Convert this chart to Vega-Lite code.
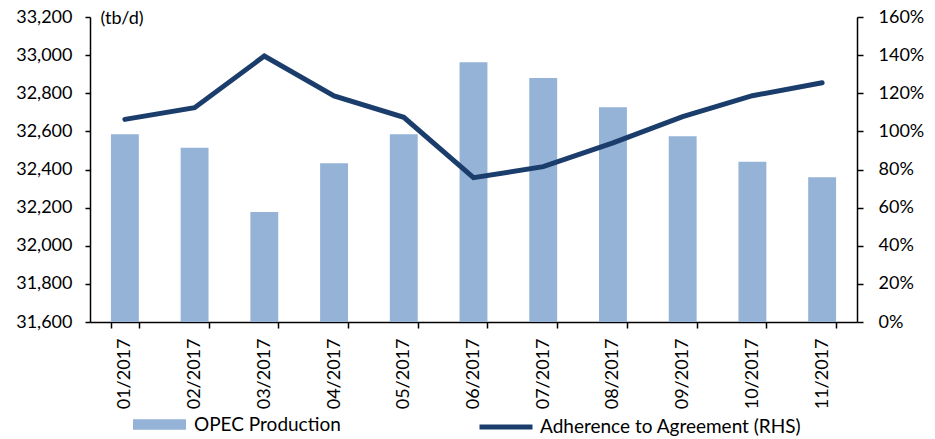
{
  "$schema": "https://vega.github.io/schema/vega-lite/v6.json",
  "autosize": {"type": "none"},
  "padding": {"left": 90, "top": 17, "right": 78, "bottom": 117},
  "width": 767,
  "height": 305,
  "background": "white",
  "config": {
    "view": {"stroke": null},
    "font": "Lato",
    "axis": {"labelFont": "Lato", "labelFontSize": 18, "labelColor": "#000", "domainColor": "#000", "domainWidth": 1.5, "tickColor": "#000", "tickWidth": 1.5, "tickSize": 5, "grid": false},
    "legend": {"labelFont": "Lato", "labelFontSize": 19, "labelColor": "#000", "labelLimit": 400}
  },
  "data": {
    "values": [
      {"month": "01/2017", "production": 32585, "adherence": 106.3},
      {"month": "02/2017", "production": 32514, "adherence": 112.4},
      {"month": "03/2017", "production": 32177, "adherence": 139.5},
      {"month": "04/2017", "production": 32433, "adherence": 118.6},
      {"month": "05/2017", "production": 32585, "adherence": 107.4},
      {"month": "06/2017", "production": 32962, "adherence": 75.7},
      {"month": "07/2017", "production": 32880, "adherence": 81.5},
      {"month": "08/2017", "production": 32726, "adherence": 94.0},
      {"month": "09/2017", "production": 32574, "adherence": 107.7},
      {"month": "10/2017", "production": 32441, "adherence": 118.7},
      {"month": "11/2017", "production": 32359, "adherence": 125.5}
    ]
  },
  "encoding": {
    "x": {
      "field": "month", "type": "ordinal", "sort": null,
      "scale": {"paddingInner": 0.6, "paddingOuter": 0.3},
      "axis": {"title": null, "labelAngle": -90, "labelAlign": "right", "labelBaseline": "middle", "labelPadding": 10, "tickBand": "extent", "tickSize": 6}
    }
  },
  "layer": [
    {
      "mark": {"type": "bar", "clip": true},
      "encoding": {
        "y": {
          "field": "production", "type": "quantitative",
          "scale": {"domain": [31600, 33200], "zero": false, "nice": false},
          "axis": {"title": "(tb/d)", "titleAngle": 0, "titleX": 10, "titleY": 1, "titleAlign": "left", "titleBaseline": "middle", "titleFontWeight": "normal", "titleFontSize": 18, "titleFont": "Lato", "titleColor": "#000", "format": ",.0f", "values": [31600, 31800, 32000, 32200, 32400, 32600, 32800, 33000, 33200], "labelPadding": 13}
        },
        "y2": {"datum": 31600},
        "fill": {
          "datum": "OPEC Production",
          "scale": {"range": ["#95B3D7"]},
          "legend": {"title": null, "orient": "none", "legendX": 43, "legendY": 381, "symbolType": "M-1,-0.2H1V0.2H-1Z", "symbolSize": 2809, "symbolStrokeWidth": 0, "labelOffset": 8}
        }
      }
    },
    {
      "mark": {"type": "line", "strokeWidth": 5, "strokeCap": "round"},
      "encoding": {
        "y": {
          "field": "adherence", "type": "quantitative",
          "scale": {"domain": [0, 160], "nice": false},
          "axis": {"orient": "right", "title": null, "values": [0, 20, 40, 60, 80, 100, 120, 140, 160], "labelExpr": "datum.value + '%'", "labelPadding": 15, "tickSize": 6}
        },
        "stroke": {
          "datum": "Adherence to Agreement (RHS)",
          "scale": {"range": ["#1B3D6C"]},
          "legend": {"title": null, "orient": "none", "legendX": 387, "legendY": 381, "symbolType": "stroke", "symbolSize": 2809, "symbolStrokeWidth": 5, "labelOffset": 5}
        }
      }
    }
  ],
  "resolve": {"scale": {"y": "independent"}}
}
